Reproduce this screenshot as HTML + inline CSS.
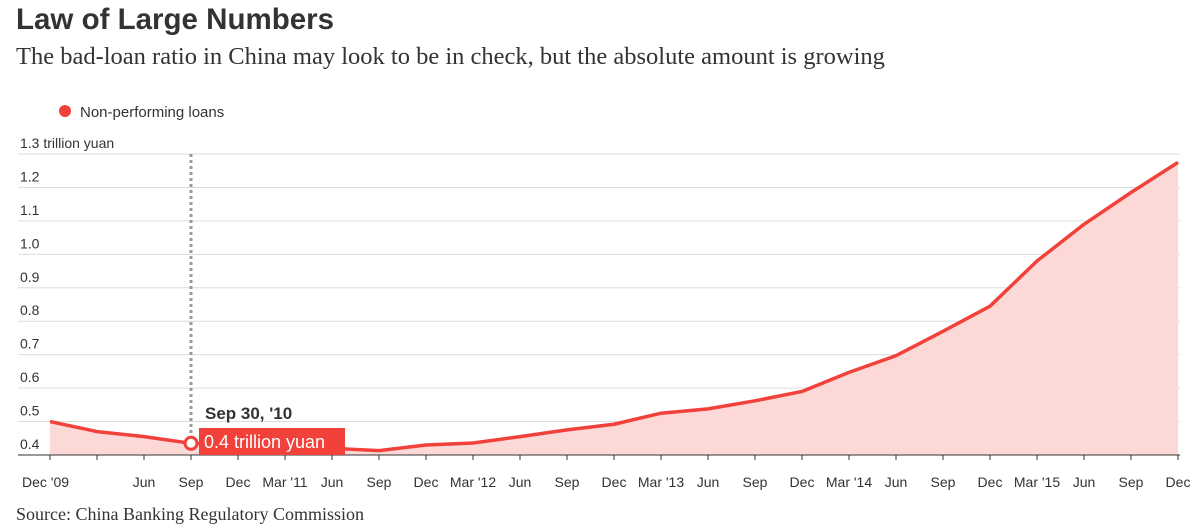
<!DOCTYPE html>
<html><head><meta charset="utf-8"><style>
body{margin:0;background:#fff;width:1200px;height:528px;overflow:hidden;font-family:"Liberation Sans",sans-serif;}
#title{position:absolute;left:16px;top:3px;font-size:29.5px;font-weight:bold;color:#333;}
#sub{position:absolute;left:16px;top:43px;font-size:24.5px;font-family:"Liberation Serif",serif;color:#333;white-space:nowrap;}
#src{position:absolute;left:16px;top:504px;font-size:18px;font-family:"Liberation Serif",serif;color:#333;}
svg{position:absolute;left:0;top:0;}
</style></head><body>
<div id="title">Law of Large Numbers</div>
<div id="sub">The bad-loan ratio in China may look to be in check, but the absolute amount is growing</div>
<div id="src">Source: China Banking Regulatory Commission</div>
<svg id="chart" width="1200" height="528">
<g><circle cx="65" cy="111" r="6" fill="#f2413a"/><text x="80" y="117" font-size="15" fill="#333">Non-performing loans</text></g>
</svg>
<script>
const labels=["Dec '09","","Jun","Sep","Dec","Mar '11","Jun","Sep","Dec","Mar '12","Jun","Sep","Dec","Mar '13","Jun","Sep","Dec","Mar '14","Jun","Sep","Dec","Mar '15","Jun","Sep","Dec"];
const values=[0.50,0.47,0.455,0.435,0.43,0.425,0.42,0.413,0.43,0.436,0.455,0.475,0.492,0.525,0.538,0.562,0.59,0.647,0.697,0.77,0.845,0.98,1.09,1.185,1.275];
const yTicks=[0.4,0.5,0.6,0.7,0.8,0.9,1.0,1.1,1.2,1.3];
const NS="http://www.w3.org/2000/svg",svg=document.getElementById('chart');
const x=i=>50+i*(1128/(labels.length-1));
const y=v=>455-(v-0.4)*334.4;
function mk(t,a,p){const e=document.createElementNS(NS,t);for(const k in a)e.setAttribute(k,a[k]);(p||svg).appendChild(e);return e;}
yTicks.forEach((t,i)=>{
 const l=mk('line',{x1:18,x2:1180,y1:y(t),y2:y(t),stroke:i==0?'#333':'#ddd','stroke-width':1});
 
 
 const tx=mk('text',{x:20,y:y(t)-6,'font-size':14,fill:'#333'});
 tx.textContent=i==yTicks.length-1?'1.3 trillion yuan':t.toFixed(1);
 
 
});
let d='M'+x(0)+','+y(values[0]);values.forEach((v,i)=>{if(i)d+=' L'+x(i)+','+y(v);});
const area=mk('path',{d:d+' L'+x(values.length-1)+','+y(0.4)+' L'+x(0)+','+y(0.4)+'Z',fill:'#fcd9d7'});


mk('line',{x1:18,x2:1180,y1:y(0.4),y2:y(0.4),stroke:'#333'});
const ln=mk('path',{d:d,fill:'none',stroke:'#f2413a','stroke-width':3.5,'stroke-linejoin':'round'});


labels.forEach((s,i)=>{
 mk('line',{x1:x(i),x2:x(i),y1:y(0.4),y2:y(0.4)+5,stroke:'#333'});
 if(!s)return;
 const t=mk('text',{x:i==0?x(i)-28:x(i),y:487,'font-size':14,fill:'#333','text-anchor':i==0?'start':'middle'});
 t.textContent=s;
 
 
});
const hi=3,hx=x(hi),hy=y(values[hi]);
mk('line',{x1:hx,x2:hx,y1:154,y2:hy,stroke:'#999','stroke-width':3,'stroke-dasharray':'3,3'});
const tip=mk('g',{});


mk('text',{x:205,y:419,'font-size':17,'font-weight':'bold',fill:'#333'},tip).textContent="Sep 30, '10";
mk('rect',{x:199,y:428,width:146,height:27,fill:'#f2413a'},tip);
mk('text',{x:204,y:448,'font-size':18,fill:'#fff'},tip).textContent='0.4 trillion yuan';
const c=mk('circle',{cx:hx,cy:hy,r:6,fill:'#fff',stroke:'#f2413a','stroke-width':3});


</script>
</body></html>
